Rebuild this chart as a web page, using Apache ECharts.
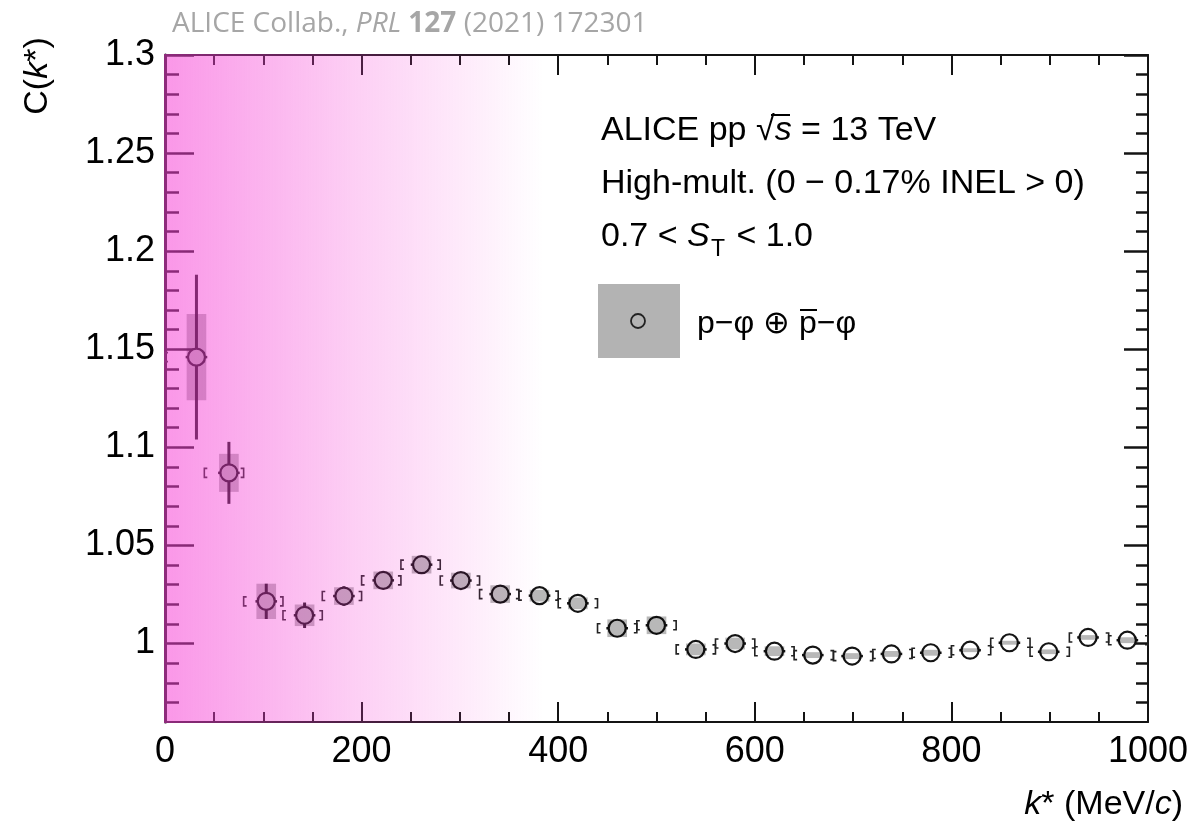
<!DOCTYPE html>
<html>
<head>
<meta charset="utf-8">
<script src="https://cdn.jsdelivr.net/npm/echarts@6/dist/echarts.min.js"></script>
<style>
  html, body { margin: 0; padding: 0; background: #fff; }
  #chart { width: 1195px; height: 830px; }
</style>
</head>
<body>
<div id="chart"></div>
<script>
// k* bin centres (MeV/c) and measured correlation
var kStar = [32, 65, 103, 142, 182, 222, 261, 301, 341, 381, 420, 460, 500,
             540, 580, 620, 659, 699, 739, 779, 819, 859, 899, 939, 979];
var cVal  = [1.146, 1.087, 1.0215, 1.0144, 1.0242, 1.0322, 1.0402, 1.0321, 1.0252, 1.0244, 1.0205, 1.0078, 1.0093,
             0.9970, 1.0000, 0.9961, 0.9941, 0.9936, 0.9947, 0.9953, 0.9966, 1.0004, 0.9958, 1.0031, 1.0017];
var statErr = [0.042, 0.0158, 0.009, 0.0065, 0.005, 0.0045, 0.004, 0.0035, 0.003, 0.003, 0.003, 0.0028, 0.0028,
               0.0025, 0.0025, 0.0025, 0.0025, 0.0025, 0.0025, 0.0025, 0.0025, 0.0025, 0.0025, 0.0025, 0.0025];
var sysErr  = [0.022, 0.0097, 0.009, 0.0055, 0.0045, 0.0045, 0.0045, 0.004, 0.0045, 0.003, 0.003, 0.0045, 0.0045,
               0.003, 0.003, 0.0025, 0.0015, 0.0015, 0.0015, 0.0015, 0.001, 0.001, 0.0012, 0.0012, 0.0015];
// bin edges
var binLo = [0, 40, 80, 120, 160, 200, 240, 280, 320, 360, 400, 440, 480,
             520, 560, 600, 640, 680, 720, 760, 800, 840, 880, 920, 960];
var binHi = [40, 80, 120, 160, 200, 240, 280, 320, 360, 400, 440, 480, 520,
             560, 600, 640, 680, 720, 760, 800, 840, 880, 920, 960, 1000];

var yMajor = [1, 1.05, 1.1, 1.15, 1.2, 1.25, 1.3];
var yMinor = [0.97, 0.98, 0.99, 1.01, 1.02, 1.03, 1.04, 1.06, 1.07, 1.08, 1.09,
              1.11, 1.12, 1.13, 1.14, 1.16, 1.17, 1.18, 1.19, 1.21, 1.22, 1.23, 1.24,
              1.26, 1.27, 1.28, 1.29];

var yMin = 0.96, yMax = 1.3;
var xErrHalf = 11;     // horizontal stub
var boxHalf = 10;      // half width of sys box
var pinkEnd = 385;     // where the shaded band fades out

var errData = [], boxData = [], ptData = [];
for (var i = 0; i < kStar.length; i++) {
  errData.push([kStar[i], cVal[i], statErr[i], binLo[i], binHi[i]]);
  boxData.push([kStar[i], cVal[i], sysErr[i]]);
  ptData.push([kStar[i], cVal[i]]);
}

var myChart = echarts.init(document.getElementById('chart'));
var ink = '#141414';
var FONT = '"Liberation Sans", Arial, sans-serif';
var OPEN = '"Open Sans", sans-serif';

function xAx(pos, labels) {
  return {
    type: 'value', position: pos, min: 0, max: 1000, interval: 200,
    axisLine: { show: true, onZero: false, lineStyle: { color: ink, width: 2 } },
    axisTick: { show: true, inside: true, length: 20, lineStyle: { color: ink, width: 2 } },
    minorTick: { show: true, splitNumber: 4, length: 10, lineStyle: { color: ink, width: 2 } },
    axisLabel: {
      show: labels, margin: 12, color: '#000', fontSize: 36, fontFamily: FONT,
      formatter: function (v) { return String(v); }
    },
    splitLine: { show: false }, minorSplitLine: { show: false }
  };
}
function yAx(pos, vals, len, line, labels) {
  return {
    type: 'value', position: pos, min: yMin, max: yMax,
    axisLine: { show: line, onZero: false, lineStyle: { color: ink, width: pos === 'left' ? 3 : 2 } },
    axisTick: { show: true, inside: true, length: len, customValues: vals, lineStyle: { color: ink, width: 2.5 } },
    axisLabel: { show: labels, customValues: vals, margin: 10, color: '#000', fontSize: 36, fontFamily: FONT },
    splitLine: { show: false }
  };
}

var option = {
  animation: false,
  grid: { left: 165, right: 47, top: 55, bottom: 108, containLabel: false },
  xAxis: [xAx('bottom', true), xAx('top', false)],
  yAxis: [
    yAx('left', yMajor, 29, true, true),
    yAx('left', yMinor, 14, false, false),
    yAx('right', yMajor, 24, true, false),
    yAx('right', yMinor, 12, false, false)
  ],
  series: [
    {
      type: 'custom', name: 'stat', z: 2,
      data: errData,
      renderItem: function (params, api) {
        var k = api.value(0), c = api.value(1), st = api.value(2);
        var p = api.coord([k, c]);
        var t = api.coord([k, c + st]), b = api.coord([k, c - st]);
        var l = api.coord([k - xErrHalf, c]), r = api.coord([k + xErrHalf, c]);
        var lo = api.coord([api.value(3), c]), hi = api.coord([api.value(4), c]);
        var h = 4.5, s = 3;
        var ls = { stroke: ink, lineWidth: 3, fill: null };
        var bs = { stroke: '#222', lineWidth: 1.6, fill: null };
        return {
          type: 'group',
          children: [
            { type: 'line', shape: { x1: p[0], y1: t[1], x2: p[0], y2: b[1] }, style: ls },
            { type: 'line', shape: { x1: l[0], y1: p[1], x2: r[0], y2: p[1] }, style: { stroke: ink, lineWidth: 2.5 } },
            { type: 'polyline', shape: { points: [[lo[0] + s, p[1] - h], [lo[0], p[1] - h], [lo[0], p[1] + h], [lo[0] + s, p[1] + h]] }, style: bs },
            { type: 'polyline', shape: { points: [[hi[0] - s, p[1] - h], [hi[0], p[1] - h], [hi[0], p[1] + h], [hi[0] - s, p[1] + h]] }, style: bs }
          ]
        };
      }
    },
    {
      type: 'scatter', name: 'points', z: 3,
      data: ptData, symbol: 'circle', symbolSize: 17,
      itemStyle: { color: '#ffffff', borderColor: ink, borderWidth: 2.2, opacity: 1 }
    },
    {
      type: 'custom', name: 'sys', z: 4,
      data: boxData,
      renderItem: function (params, api) {
        var k = api.value(0), c = api.value(1), sy = api.value(2);
        var a = api.coord([k - boxHalf, c + sy]), b = api.coord([k + boxHalf, c - sy]);
        return {
          type: 'rect',
          shape: { x: a[0], y: a[1], width: b[0] - a[0], height: b[1] - a[1] },
          style: { fill: 'rgba(0,0,0,0.28)' }
        };
      }
    },
    {
      type: 'custom', name: 'band', z: 10, silent: true,
      data: [[0]],
      renderItem: function (params, api) {
        var a = api.coord([0, yMax]), b = api.coord([pinkEnd, yMin]);
        return {
          type: 'rect',
          shape: { x: a[0] - 1, y: a[1] - 1, width: b[0] - a[0] + 1, height: b[1] - a[1] + 2 },
          style: {
            fill: new echarts.graphic.LinearGradient(0, 0, 1, 0, [
              { offset: 0, color: 'rgba(246,62,212,0.54)' },
              { offset: 0.5, color: 'rgba(246,62,212,0.25)' },
              { offset: 1, color: 'rgba(246,62,212,0)' }
            ])
          }
        };
      }
    }
  ],
  graphic: [
    {
      type: 'text', x: 172, y: 24,
      style: {
        text: '{n|ALICE Collab., }{i|PRL}{n| }{b|127}{n| (2021) 172301}',
        verticalAlign: 'middle',
        rich: {
          n: { fontFamily: OPEN, fontSize: 28, fill: '#a6a6a6' },
          i: { fontFamily: OPEN, fontSize: 28, fill: '#a6a6a6', fontStyle: 'italic' },
          b: { fontFamily: OPEN, fontSize: 28, fill: '#a6a6a6', fontWeight: 'bold' }
        }
      }
    },
    {
      type: 'text', x: 38, y: 76, rotation: Math.PI / 2,
      style: {
        text: '{n|C(}{i|k}{n|*)}', align: 'center', verticalAlign: 'middle',
        rich: {
          n: { fontFamily: FONT, fontSize: 34, fill: '#000' },
          i: { fontFamily: FONT, fontSize: 34, fill: '#000', fontStyle: 'italic' }
        }
      }
    },
    {
      type: 'text', x: 1183, y: 805,
      style: {
        text: '{i|k}{n|* (MeV/}{i|c}{n|)}', align: 'right', verticalAlign: 'middle',
        rich: {
          n: { fontFamily: FONT, fontSize: 34, fill: '#000' },
          i: { fontFamily: FONT, fontSize: 34, fill: '#000', fontStyle: 'italic' }
        }
      }
    },
    {
      type: 'text', x: 601, y: 131,
      style: {
        text: '{n|ALICE pp }{n|\u221A}{i|s}{n| = 13 TeV}', verticalAlign: 'middle',
        rich: {
          n: { fontFamily: FONT, fontSize: 34, fill: '#000' },
          i: { fontFamily: FONT, fontSize: 34, fill: '#000', fontStyle: 'italic' }
        }
      }
    },
    {
      type: 'text', x: 601, y: 184,
      style: {
        text: 'High-mult. (0 \u2212 0.17% INEL > 0)', verticalAlign: 'middle',
        font: '34px ' + FONT, fill: '#000'
      }
    },
    {
      type: 'text', x: 601, y: 237,
      style: {
        text: '{n|0.7 < }{i|S}', verticalAlign: 'middle',
        rich: {
          n: { fontFamily: FONT, fontSize: 34, fill: '#000' },
          i: { fontFamily: FONT, fontSize: 34, fill: '#000', fontStyle: 'italic' }
        }
      }
    },
    {
      type: 'text', x: 711, y: 250,
      style: { text: 'T', verticalAlign: 'middle', font: '23px ' + FONT, fill: '#000' }
    },
    {
      type: 'text', x: 727, y: 237,
      style: { text: ' < 1.0', verticalAlign: 'middle', font: '34px ' + FONT, fill: '#000' }
    },
    {
      type: 'rect', shape: { x: 598, y: 284, width: 82, height: 74 },
      style: { fill: '#b3b3b3' }
    },
    {
      type: 'circle', shape: { cx: 638, cy: 321, r: 7 },
      style: { fill: null, stroke: '#222', lineWidth: 1.8 }
    },
    {
      type: 'text', x: 697, y: 324,
      style: {
        text: 'p\u2212\u03C6 \u2295 p\u2212\u03C6', verticalAlign: 'middle',
        font: '32px ' + FONT, fill: '#000'
      }
    },
    {
      type: 'line', shape: { x1: 800, y1: 310, x2: 817, y2: 310 },
      style: { stroke: '#000', lineWidth: 2 }
    },
    {
      // bar over s in sqrt(s)
      type: 'line', shape: { x1: 771, y1: 115, x2: 790, y2: 115 },
      style: { stroke: '#000', lineWidth: 2 }
    }
  ]
};

myChart.setOption(option);
</script>
</body>
</html>
